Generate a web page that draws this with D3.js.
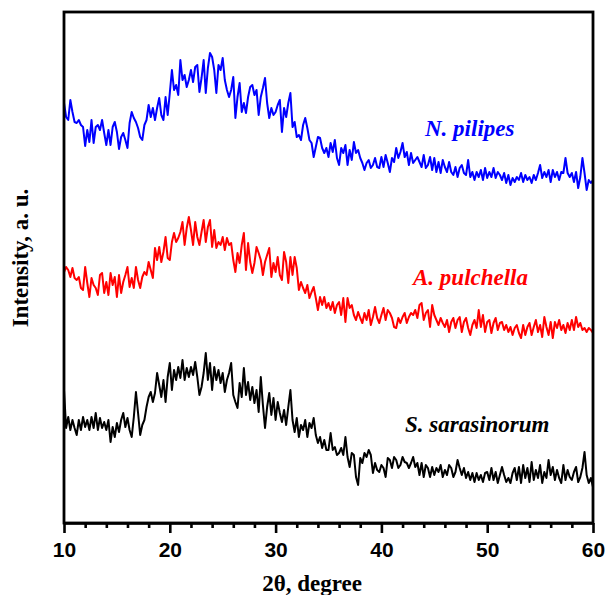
<!DOCTYPE html>
<html>
<head>
<meta charset="utf-8">
<script src="https://cdn.jsdelivr.net/npm/d3@7"></script>
<style>
    body { margin: 0; background: #fff; }
    .frame { fill: none; stroke: #000; stroke-width: 2.8; }
    .axis path, .axis line { stroke: #000; stroke-width: 2.6; }
    .axis text { font-family: "Liberation Sans", Arial, sans-serif; font-weight: bold; font-size: 21px; fill: #000; }
    .trace { fill: none; stroke-width: 2; stroke-linejoin: round; }
    .title { font-family: "Liberation Serif", "Times New Roman", serif; font-weight: bold; font-size: 23px; fill: #000; }
    .sample { font-family: "Liberation Serif", "Times New Roman", serif; font-weight: bold; font-style: italic; font-size: 23px; }
</style>
</head>
<body>
<div id="chart"></div>
<script>
// 2theta scan from 10 to 60 degree, step 0.2 degree
var thetaStart = 10, thetaStep = 0.2;

// intensities (a.u., traces already stacked)
var pilipes = [
    420,406,403,423,411,401,400,403,398,396, 377,393,381,403,380,396,398,393,403,390,
    378,393,378,396,401,391,374,386,390,383, 375,400,411,405,401,395,386,383,398,403,
    418,406,415,403,415,425,408,403,426,408, 430,453,433,438,428,463,443,448,436,443,
    453,441,456,458,431,445,463,430,455,470, 466,453,430,458,453,465,443,433,426,433,
    446,405,426,440,411,420,410,426,436,438, 428,433,408,426,435,445,420,405,415,408,
    411,418,423,391,415,406,420,430,396,401, 386,388,383,398,405,395,383,380,366,376,
    386,385,375,370,375,366,380,371,383,365, 358,375,370,378,358,373,363,381,370,373,
    365,360,353,360,363,355,358,365,356,355, 366,356,368,360,351,365,361,375,365,371,
    380,366,371,358,370,360,363,366,361,356, 368,355,358,366,353,365,351,361,350,363,
    356,351,361,351,348,356,346,355,358,350, 348,363,346,351,343,351,346,353,343,355,
    345,351,346,355,345,351,348,343,350,340, 348,338,345,341,346,343,350,341,348,343,
    346,340,348,343,350,358,345,351,346,353, 341,353,346,351,343,351,350,365,350,346,
    350,341,351,335,346,365,350,333,343,340, 343
];
var pulchella = [
    251,256,253,246,255,245,243,246,235,233, 256,240,226,245,238,235,228,248,250,230,
    241,228,250,238,246,226,248,230,241,248, 256,236,245,235,256,243,235,246,251,248,
    261,253,245,275,263,276,261,271,286,265, 263,281,290,281,285,291,301,278,295,306,
    293,278,301,286,278,291,303,281,296,303, 276,293,275,281,278,286,273,285,278,280,
    263,251,270,260,278,290,253,280,261,250, 260,276,270,263,248,261,268,275,246,260,
    251,266,248,243,271,261,240,266,248,266, 255,233,241,235,230,238,225,231,236,225,
    213,226,218,226,215,220,213,221,210,218, 221,208,225,201,225,215,218,208,203,211,
    205,200,210,203,213,198,206,216,205,200, 208,215,203,213,210,205,196,195,205,200,
    206,210,200,206,210,208,213,205,218,220, 203,210,213,196,218,208,203,198,205,200,
    196,203,191,201,205,195,203,206,191,201, 205,195,188,198,203,195,213,196,208,191,
    201,203,190,200,205,193,200,201,193,198, 191,196,188,195,198,190,185,198,188,196,
    200,188,196,203,191,198,186,206,196,188, 201,185,201,195,203,193,198,190,200,193,
    203,193,206,196,200,193,195,191,195,193, 190
];
var sarasinorum = [
    133,95,106,93,103,95,88,103,93,106, 96,103,93,106,95,110,93,105,95,101,
    93,103,81,96,86,100,91,103,110,96, 105,93,86,106,131,110,88,98,103,116,
    126,131,121,130,150,138,126,143,121,146, 160,133,153,143,156,145,163,143,155,146,
    156,148,161,146,128,136,150,170,143,160, 133,156,143,153,140,150,131,143,150,160,
    128,121,115,140,126,155,128,141,123,136, 120,133,111,146,118,95,116,130,108,125,
    103,121,110,101,113,98,116,133,103,91, 105,86,98,93,103,86,100,95,105,88,
    80,86,75,83,73,73,90,73,76,68, 70,75,68,86,66,56,70,68,46,38,
    65,60,70,66,73,68,50,60,53,51, 58,55,46,65,63,55,66,63,55,58,
    66,61,60,55,60,66,56,60,48,60, 46,58,55,46,56,48,55,51,58,46,
    53,48,58,55,46,51,63,55,48,55, 45,51,43,50,41,50,43,48,41,50,
    51,43,55,43,51,40,48,56,48,41, 45,40,50,55,43,56,40,58,45,55,
    41,61,43,53,45,58,40,51,45,63, 48,56,43,53,45,40,58,43,53,46,
    43,51,56,41,46,55,71,48,40,45, 36
];

var seriesNames = ["N. pilipes", "A. pulchella", "S. sarasinorum"];
var seriesColors = ["#0000ff", "#ff0000", "#000000"];
var majorTicks = [10, 20, 30, 40, 50, 60];
var minorTicks = [12, 14, 16, 18, 22, 24, 26, 28, 32, 34, 36, 38, 42, 44, 46, 48, 52, 54, 56, 58];

(function () {
    var width = 605, height = 595;
    var left = 64, right = 593, top = 12, bottom = 523;

    var x = d3.scaleLinear().domain([10, 60]).range([left, right]);
    var y = d3.scaleLinear().domain([0, 511]).range([bottom, top]);

    var svg = d3.select("#chart").append("svg")
        .attr("width", width)
        .attr("height", height);

    var series = [pilipes, pulchella, sarasinorum].map(function (vals, i) {
        return {
            name: seriesNames[i],
            color: seriesColors[i],
            points: vals.map(function (v, k) {
                return { t: thetaStart + k * thetaStep, v: v };
            })
        };
    });

    var line = d3.line()
        .x(function (d) { return x(d.t); })
        .y(function (d) { return y(d.v); });

    svg.append("g").selectAll("path.trace")
        .data(series)
        .enter().append("path")
        .attr("class", "trace")
        .attr("stroke", function (d) { return d.color; })
        .attr("d", function (d) { return line(d.points); });

    svg.append("rect")
        .attr("class", "frame")
        .attr("x", left)
        .attr("y", top)
        .attr("width", right - left)
        .attr("height", bottom - top);

    // minor ticks first, major axis with labels on top
    svg.append("g")
        .attr("class", "axis")
        .attr("transform", "translate(0," + bottom + ")")
        .call(d3.axisBottom(x).tickValues(minorTicks).tickSize(5).tickFormat(""))
        .select(".domain").remove();

    svg.append("g")
        .attr("class", "axis")
        .attr("transform", "translate(0," + bottom + ")")
        .call(d3.axisBottom(x).tickValues(majorTicks).tickSize(10).tickSizeOuter(0).tickPadding(9).tickFormat(d3.format("d")));

    // sample names next to each trace
    var labelPos = [[425, 136], [413, 285], [405, 432]];
    svg.append("g").selectAll("text.sample")
        .data(series)
        .enter().append("text")
        .attr("class", "sample")
        .attr("x", function (d, i) { return labelPos[i][0]; })
        .attr("y", function (d, i) { return labelPos[i][1]; })
        .attr("fill", function (d) { return d.color; })
        .text(function (d) { return d.name; });

    svg.append("text")
        .attr("class", "title")
        .attr("text-anchor", "middle")
        .attr("x", 312)
        .attr("y", 591)
        .text("2θ, degree");

    svg.append("text")
        .attr("class", "title")
        .attr("text-anchor", "middle")
        .attr("transform", "translate(28,258) rotate(-90)")
        .text("Intensity, a. u.");
})();
</script>
</body>
</html>
